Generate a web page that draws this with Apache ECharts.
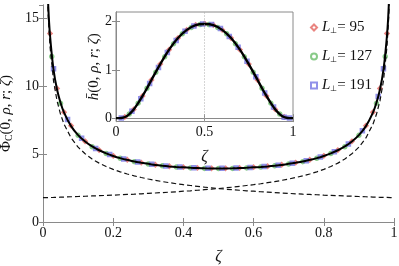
<!DOCTYPE html>
<html><head><meta charset="utf-8">
<script src="https://cdn.jsdelivr.net/npm/echarts@6/dist/echarts.min.js"></script>
<style>html,body{margin:0;padding:0;background:#fff}#c{width:399px;height:266px}</style>
</head><body><div id="c"></div>
<script>
// ---- main plot data ----
const zeta = [0,0.008,0.01,0.015,0.02,0.03,0.04,0.05,0.06,0.08,
 0.1,0.12,0.14,0.16,0.18,0.2,0.22,0.24,0.26,0.28,0.3,0.32,0.34,0.36,0.38,0.4,0.42,0.44,0.46,0.48,
 0.5,0.52,0.54,0.56,0.58,0.6,0.62,0.64,0.66,0.68,0.7,0.72,0.74,0.76,0.78,0.8,0.82,0.84,0.86,0.88,0.9,
 0.92,0.94,0.95,0.96,0.97,0.98,0.985,0.99,0.992,1];
const phiTotal = [null,22.0,19.6,15.9,13.75,11.24,9.77,8.79,8.07,7.07,
 6.41,5.94,5.57,5.29,5.06,4.87,4.71,4.58,4.46,4.37,4.29,4.21,4.15,4.10,4.06,4.03,4.00,3.98,3.96,3.95,
 3.95,3.95,3.96,3.98,4.00,4.03,4.06,4.10,4.15,4.21,4.29,4.37,4.46,4.58,4.71,4.87,5.06,5.29,5.57,5.94,6.41,
 7.07,8.07,8.79,9.77,11.24,13.75,15.9,19.6,22.0,null];
const phiLeft = [null,21.2,18.8,15.1,12.93,10.41,8.93,7.94,7.21,6.20,
 5.52,5.03,4.64,4.34,4.09,3.88,3.70,3.54,3.40,3.28,3.17,3.07,2.98,2.90,2.82,2.75,2.69,2.63,2.57,2.52,
 2.47,2.42,2.38,2.34,2.30,2.27,2.23,2.20,2.17,2.14,2.11,2.08,2.05,2.03,2.01,1.98,1.96,1.94,1.92,1.90,1.88,
 1.86,1.84,1.83,1.82,1.81,1.81,1.80,1.80,1.80,1.79];
const phiRight = [1.79,1.80,1.80,1.80,1.81,1.81,1.82,1.83,1.84,1.86,
 1.88,1.90,1.92,1.94,1.96,1.98,2.01,2.03,2.05,2.08,2.11,2.14,2.17,2.20,2.23,2.27,2.30,2.34,2.38,2.42,
 2.47,2.52,2.57,2.63,2.69,2.75,2.82,2.90,2.98,3.07,3.17,3.28,3.40,3.54,3.70,3.88,4.09,4.34,4.64,5.03,5.52,
 6.20,7.21,7.94,8.93,10.41,12.93,15.1,18.8,21.2,null];

// simulation points (main)
const z95 = [0.02,0.04,0.06,0.08,0.12,0.16,0.2,0.24,0.28,0.32,0.36,0.4,0.44,0.48,0.52,0.56,0.6,0.64,0.68,0.72,0.76,0.8,0.84,0.88,0.92,0.94,0.96,0.98];
const v95 = [13.9,9.85,8.1,7.1,5.95,5.3,4.88,4.59,4.38,4.22,4.11,4.04,3.99,3.96,3.96,3.99,4.04,4.11,4.22,4.38,4.59,4.88,5.3,5.95,7.1,8.1,9.85,13.9];
const z127 = [0.025,0.05,0.1,0.14,0.18,0.22,0.26,0.3,0.34,0.38,0.42,0.46,0.5,0.54,0.58,0.62,0.66,0.7,0.74,0.78,0.82,0.86,0.9,0.95,0.975];
const v127 = [12.2,8.75,6.39,5.55,5.05,4.70,4.45,4.28,4.14,4.05,3.99,3.95,3.94,3.95,3.99,4.05,4.14,4.28,4.45,4.70,5.05,5.55,6.39,8.75,12.2];
const z191 = [0.03,0.07,0.11,0.15,0.19,0.23,0.27,0.31,0.35,0.39,0.43,0.47,0.51,0.55,0.59,0.63,0.67,0.71,0.75,0.79,0.83,0.87,0.91,0.955,0.97];
const v191 = [11.3,7.55,6.18,5.42,4.97,4.65,4.42,4.26,4.13,4.05,4.00,3.96,3.96,3.98,4.02,4.09,4.19,4.34,4.52,4.80,5.18,5.75,6.73,9.25,11.3];

// ---- inset data ----
const hz = [0,0.02,0.04,0.06,0.08,0.1,0.125,0.15,0.175,0.2,0.25,0.3,0.35,0.4,0.45,0.5,0.55,0.6,0.65,0.7,0.75,0.8,0.825,0.85,0.875,0.9,0.92,0.94,0.96,0.98,1];
const hv = [0,0,0.01,0.04,0.1,0.18,0.31,0.46,0.62,0.79,1.12,1.42,1.66,1.83,1.93,1.95,1.93,1.83,1.66,1.42,1.12,0.79,0.62,0.46,0.31,0.18,0.1,0.04,0.01,0,0];
const hz95 = [0.05,0.1,0.15,0.2,0.25,0.3,0.35,0.4,0.45,0.5,0.55,0.6,0.65,0.7,0.75,0.8,0.85,0.9,0.95];
const hv95 = [0.025,0.18,0.46,0.79,1.12,1.42,1.66,1.83,1.93,1.96,1.93,1.83,1.66,1.42,1.12,0.79,0.46,0.18,0.025];
const hz127 = [0.075,0.125,0.175,0.225,0.275,0.325,0.375,0.425,0.475,0.525,0.575,0.625,0.675,0.725,0.775,0.825,0.875,0.925];
const hv127 = [0.085,0.31,0.62,0.95,1.27,1.54,1.75,1.88,1.94,1.94,1.88,1.75,1.54,1.27,0.95,0.62,0.31,0.085];
const hz191 = [0.03,0.09,0.14,0.19,0.24,0.29,0.34,0.39,0.44,0.49,0.54,0.59,0.64,0.69,0.74,0.79,0.84,0.89,0.95,0.98];
const hv191 = [0.005,0.14,0.40,0.72,1.05,1.36,1.61,1.80,1.91,1.95,1.94,1.86,1.69,1.47,1.18,0.86,0.52,0.23,0.02,0];
const insetRefX = 0.5;
const insetYTicks = [0,1,2];

// ---- labels ----
const sizes = ['95','127','191'];
const names = sizes.map(s => 'L' + s);
const colors = ['#e0504a','#55b455','#6262e0'];
const symbols = ['emptyDiamond','emptyCircle','emptyRect'];

const FONT = '"Liberation Serif", "DejaVu Serif", serif';
const frame = '#8a8a8a';
const pairs = (xs, ys) => xs.map((x, i) => [x, ys[i]]);

const rich = {
  a:{fontFamily:FONT,fontSize:15,color:'#111'},
  g:{fontFamily:FONT,fontSize:15,fontStyle:'italic',color:'#111'},
  c:{fontFamily:FONT,fontSize:10,color:'#111',padding:[7,0,0,0]}
};

function ax(grid, min, max, interval, labels, extra) {
  const o = {
    type:'value', gridIndex:grid, min, max,
    axisLine:{show:true,lineStyle:{color:frame,width:1}},
    axisTick:{show:true,inside:true,length:4,lineStyle:{color:frame}},
    axisLabel:{show:labels,fontFamily:FONT,fontSize:14,color:'#111',margin:4},
    splitLine:{show:false}
  };
  if (interval != null) o.interval = interval;
  return Object.assign(o, extra||{});
}

const mainSeries = [];
[[z95,v95],[z127,v127],[z191,v191]].forEach((d,i)=>{
  mainSeries.push({name:names[i],type:'scatter',xAxisIndex:0,yAxisIndex:0,symbol:symbols[i],symbolSize:3.5,
    itemStyle:{color:colors[i],borderWidth:0.7,opacity:0.7},data:pairs(d[0],d[1]),z:2});
});
[[hz95,hv95],[hz127,hv127],[hz191,hv191]].forEach((d,i)=>{
  mainSeries.push({name:names[i],type:'scatter',xAxisIndex:2,yAxisIndex:2,symbol:symbols[i],symbolSize:3.5,
    itemStyle:{color:colors[i],borderWidth:0.7,opacity:0.7},data:pairs(d[0],d[1]),z:2});
});

const yLabelMain = {show:true,fontFamily:FONT,fontSize:14,color:'#111',margin:4,showMaxLabel:false};
const yLabelInset = {show:true,fontFamily:FONT,fontSize:14,color:'#111',margin:4,customValues:insetYTicks};
const yTickInset = {show:true,inside:true,length:4,lineStyle:{color:frame},customValues:insetYTicks};

const option = {
  animation:false,
  backgroundColor:'#fff',
  grid:[
    {left:43,right:5,top:5,bottom:44,outerBoundsMode:'none',containLabel:false},
    {left:116,right:106,top:12,bottom:144.5,outerBoundsMode:'none',containLabel:false,
      show:true,backgroundColor:'#fff',borderColor:frame,borderWidth:1}
  ],
  legend:{
    data:names, orient:'vertical', left:305, top:15, itemWidth:6, itemHeight:6, itemGap:14,
    formatter:n => '{i|L}{s|⊥}{n|= ' + n.slice(1) + '}',
    textStyle:{fontFamily:FONT,fontSize:15,color:'#111',rich:{
      i:{fontFamily:FONT,fontSize:15,fontStyle:'italic',color:'#111'},
      s:{fontFamily:'DejaVu Sans',fontSize:8,color:'#111',padding:[6,0,0,0]},
      n:{fontFamily:FONT,fontSize:15,color:'#111'}
    }}
  },
  xAxis:[
    ax(0,0,1,0.2,true,{name:'ζ',nameLocation:'middle',nameGap:27,
      nameTextStyle:{fontFamily:FONT,fontSize:16,fontStyle:'italic',color:'#111'}}),
    ax(0,0,1,0.2,false,{position:'top'}),
    ax(1,0,1,0.5,true,{name:'ζ',nameLocation:'middle',nameGap:27,
      nameTextStyle:{fontFamily:FONT,fontSize:16,fontStyle:'italic',color:'#111'}}),
    ax(1,0,1,0.5,false,{position:'top'})
  ],
  yAxis:[
    ax(0,0,16,5,true,{axisLabel:yLabelMain,name:'{a|Φ}{c|C}{a|(0, }{g|ρ}{a|, }{g|r}{a|; }{g|ζ}{a|)}',nameLocation:'middle',nameGap:24,
      nameTextStyle:{rich}}),
    ax(0,0,16,5,false,{position:'right'}),
    ax(1,-0.07,2.2,null,true,{axisLabel:yLabelInset,axisTick:yTickInset,name:'{g|h̄}{a|(0, }{g|ρ}{a|, }{g|r}{a|; }{g|ζ}{a|)}',nameLocation:'middle',nameGap:12,
      nameTextStyle:{rich}}),
    ax(1,-0.07,2.2,null,false,{position:'right',axisTick:yTickInset})
  ],
  series:[
    ...mainSeries,
    {type:'line',xAxisIndex:0,yAxisIndex:0,data:pairs(zeta,phiLeft),showSymbol:false,symbol:'none',
      lineStyle:{color:'#111',width:1.2,type:[5,3]},z:3},
    {type:'line',xAxisIndex:0,yAxisIndex:0,data:pairs(zeta,phiRight),showSymbol:false,symbol:'none',
      lineStyle:{color:'#111',width:1.2,type:[5,3]},z:3},
    {type:'line',xAxisIndex:0,yAxisIndex:0,data:pairs(zeta,phiTotal),showSymbol:false,symbol:'none',smooth:0.3,
      lineStyle:{color:'#000',width:2},z:4},
    {type:'line',xAxisIndex:2,yAxisIndex:2,data:pairs(hz,hv),showSymbol:false,symbol:'none',smooth:0.3,
      lineStyle:{color:'#000',width:2.4},z:4,
      markLine:{silent:true,symbol:'none',label:{show:false},
        lineStyle:{type:[1,2],color:'#aaa',width:1},data:[{xAxis:insetRefX}]}}
  ]
};
const chart = echarts.init(document.getElementById('c'),null,{renderer:'canvas'});
chart.setOption(option);
</script></body></html>
